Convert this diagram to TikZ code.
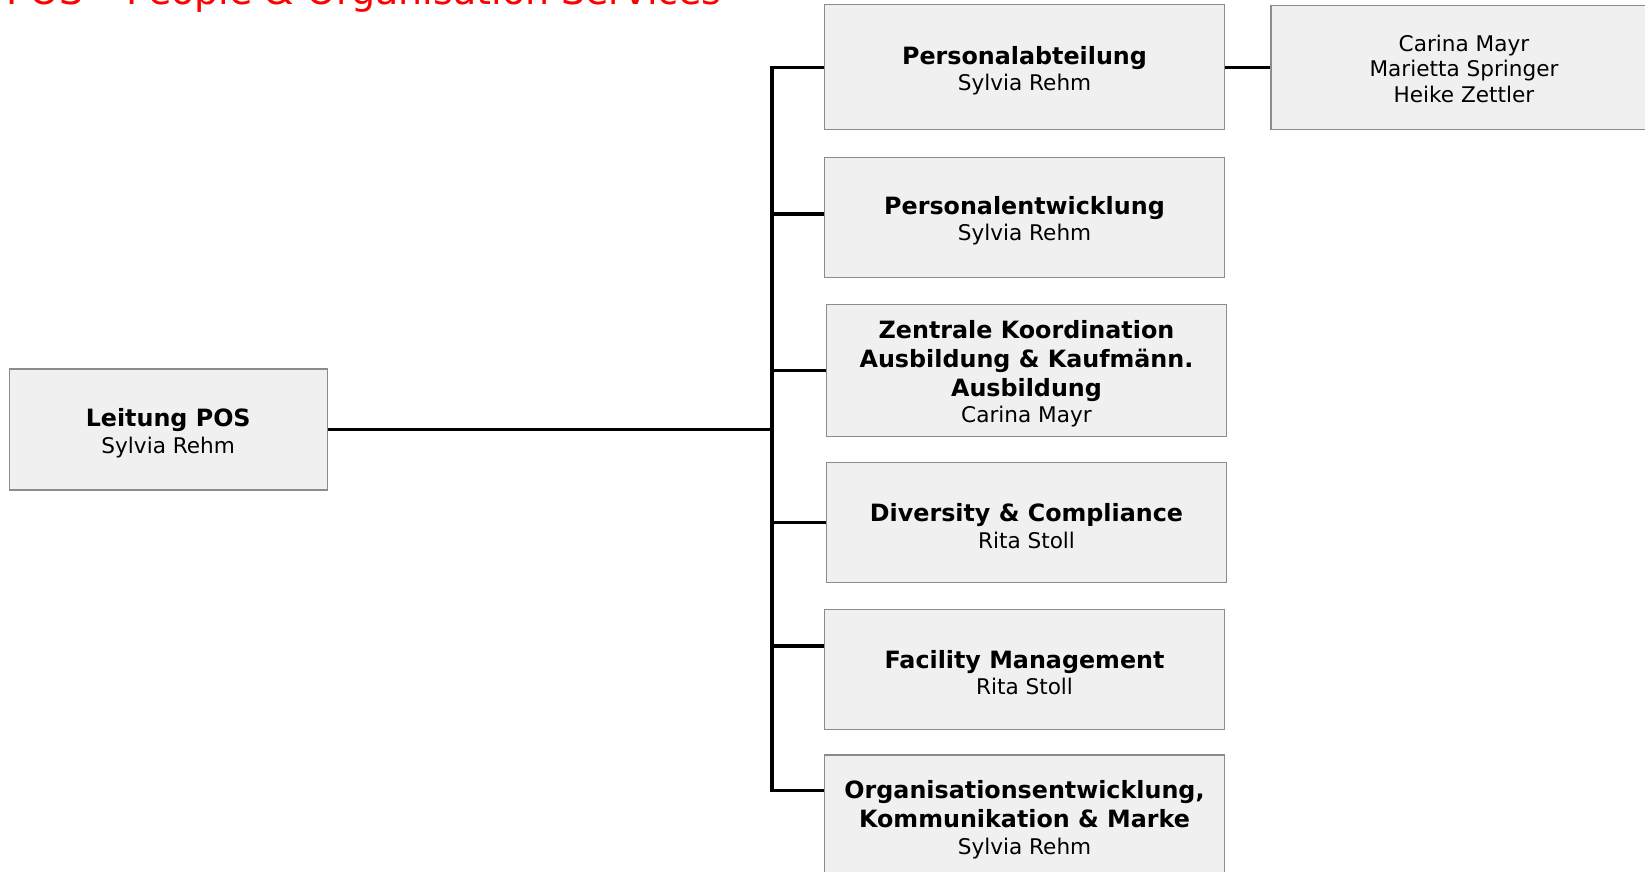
\documentclass[tikz,border=0pt]{standalone}
\usepackage{fontspec}
\setmainfont{DejaVu Sans}
\usepackage{xcolor}
\usepackage{tikz}
\usetikzlibrary{positioning,calc}

\definecolor{boxfill}{HTML}{F0F0F0}
\definecolor{boxline}{HTML}{8C8C8C}
\definecolor{titlered}{HTML}{FF0000}

% fette Zeile, erste Zeile mit Strut
\newcommand{\unithead}[1]{{\fontsize{11.9}{13.5}\selectfont\bfseries #1}}
\newcommand{\unitfirst}[1]{\rule{0pt}{12.6pt}\unithead{#1}}

\begin{document}
\begin{tikzpicture}[
    x=0.5pt, y=-0.5pt,
    unit/.style = {draw=boxline, fill=boxfill, line width=0.6pt, align=center,
      inner sep=0pt, font=\fontsize{10.8}{13.2}\selectfont},
    conn/.style = {line width=1.7pt, black},
    >=stealth
  ]
  \useasboundingbox (0,0) rectangle (1645,872);

  % Titel
  \node[anchor=base west, inner sep=0pt, text=titlered,
    font=\fontsize{19}{20}\selectfont] (title) at (6,4.5)
    {POS – People \& Organisation Services};

  % Leitung
  \node[unit, minimum width=159pt, minimum height=60.5pt] (lead) at (168.2,429.5)
    {\unitfirst{Leitung POS}\\Sylvia Rehm};

  % Bereiche
  \node[unit, minimum width=200pt, minimum height=62.5pt] (pa) at (1024.5,67.4)
    {\unitfirst{Personalabteilung}\\Sylvia Rehm};
  \node[unit, minimum width=193pt, minimum height=62pt] (team) at (1464,67.4)
    {\rule{0pt}{9.5pt}Carina Mayr\\[-0.4pt]Marietta Springer\\[-0.4pt]Heike Zettler};
  \node[unit, minimum width=200pt, minimum height=60pt] (pe) at (1024.5,217.2)
    {\unitfirst{Personalentwicklung}\\Sylvia Rehm};
  \node[unit, minimum width=200pt, minimum height=66pt] (zk) at (1026.5,370.2)
    {\unitfirst{Zentrale Koordination}\\[1.3pt]\unithead{Ausbildung \& Kaufmänn.}\\[1.3pt]\unithead{Ausbildung}\\Carina Mayr};
  \node[unit, minimum width=200pt, minimum height=60pt] (dc) at (1026.5,522.4)
    {\unitfirst{Diversity \& Compliance}\\Rita Stoll};
  \node[unit, minimum width=200pt, minimum height=60pt] (fm) at (1024.5,669.3)
    {\unitfirst{Facility Management}\\Rita Stoll};
  \node[unit, minimum width=200pt, minimum height=61pt] (oe) at (1024.5,816)
    {\unitfirst{Organisationsentwicklung,}\\[1.3pt]\unithead{Kommunikation \& Marke}\\Sylvia Rehm};

  % Verbindungen
  \coordinate (bus) at (772,0);
  \path ([yshift=1.5pt]pe.west) coordinate (peIn);
  \path ([yshift=-18.7pt]fm.north west) coordinate (fmIn);
  \path ([yshift=-18pt]oe.north west) coordinate (oeIn);
  \draw[conn] (lead.east) -- (lead.east -| bus);
  \draw[conn] (pa.west) -- (bus |- pa.west) -- (bus |- oeIn) -- (oeIn);
  \draw[conn] (bus |- peIn) -- (peIn);
  \draw[conn] (bus |- zk.west) -- (zk.west);
  \draw[conn] (bus |- dc.west) -- (dc.west);
  \draw[conn] (bus |- fmIn) -- (fmIn);
  \draw[conn] (pa.east) -- (team.west);
\end{tikzpicture}
\end{document}
